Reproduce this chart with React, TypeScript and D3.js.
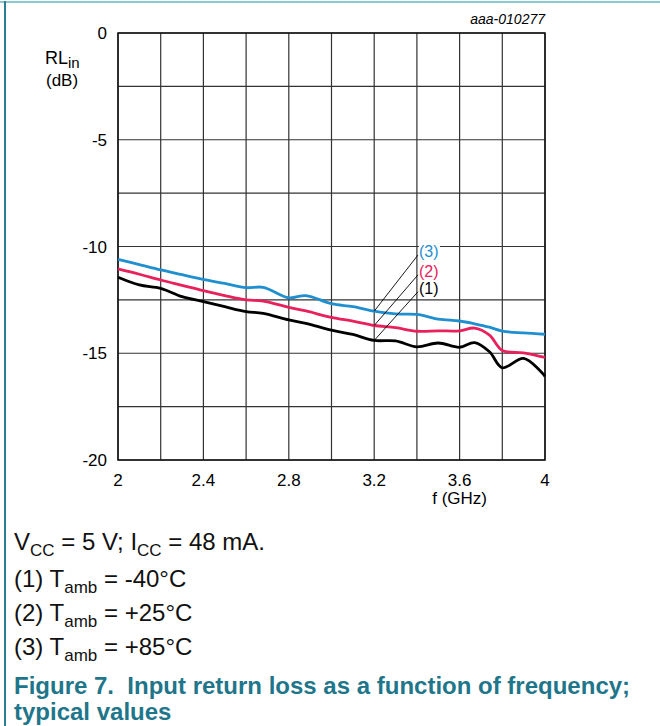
import React, { useRef, useEffect } from "react";
import * as d3 from "d3";

const FREQ = [2.0, 2.1, 2.2, 2.3, 2.4, 2.5, 2.6, 2.68, 2.8, 2.88, 3.0, 3.1, 3.2, 3.3, 3.4, 3.5, 3.6, 3.67, 3.74, 3.8, 3.9, 4.0];

// (1) Tamb = -40°C
const RL_M40 = [-11.44, -11.8, -11.96, -12.35, -12.58, -12.82, -13.05, -13.13, -13.44, -13.6, -13.92, -14.12, -14.4, -14.42, -14.7, -14.52, -14.72, -14.5, -14.93, -15.68, -15.24, -16.08];
// (2) Tamb = +25°C
const RL_P25 = [-11.05, -11.3, -11.57, -11.82, -12.07, -12.3, -12.5, -12.56, -12.85, -13.02, -13.32, -13.5, -13.7, -13.8, -13.97, -13.95, -13.95, -13.82, -14.15, -14.87, -14.98, -15.2];
// (3) Tamb = +85°C
const RL_P85 = [-10.6, -10.85, -11.1, -11.32, -11.54, -11.73, -11.93, -11.91, -12.4, -12.3, -12.68, -12.82, -13.03, -13.16, -13.18, -13.4, -13.49, -13.62, -13.78, -13.96, -14.05, -14.11];

const SERIES = [
  { id: "(1)", values: RL_M40, color: "#000000", labelY: -12.12 },
  { id: "(2)", values: RL_P25, color: "#e8215c", labelY: -11.33 },
  { id: "(3)", values: RL_P85, color: "#1f8fcf", labelY: -10.4 },
];

const X_TICKS = [2, 2.4, 2.8, 3.2, 3.6, 4];
const Y_TICKS = [0, -5, -10, -15, -20];
const LEADER_F = 3.2;
const LABEL_F = 3.405;

const W = 660;
const H = 726;
const PLOT = { left: 118, right: 545, top: 33, bottom: 460 };
const FONT = "Arial, 'Liberation Sans', Helvetica, sans-serif";
const TEAL = "#1f768a";

export default function App() {
  const svgRef = useRef<SVGSVGElement | null>(null);

  useEffect(() => {
    if (!svgRef.current) return;
    const svg = d3.select(svgRef.current);
    svg.selectAll("*").remove();

    const x = d3.scaleLinear().domain([2, 4]).range([PLOT.left, PLOT.right]);
    const y = d3.scaleLinear().domain([-20, 0]).range([PLOT.bottom, PLOT.top]);

    // frame lines of the figure
    svg.append("line").attr("x1", 0).attr("x2", W).attr("y1", 2).attr("y2", 2)
      .attr("stroke", "#8ccad0").attr("stroke-width", 2);
    svg.append("line").attr("x1", 5).attr("x2", 5).attr("y1", 1).attr("y2", H)
      .attr("stroke", "#2b7d90").attr("stroke-width", 2);

    // grid
    const grid = svg.append("g");
    grid.selectAll("line.v")
      .data(d3.range(0, 11).map((i) => 2 + i * 0.2))
      .join("line")
      .attr("x1", (d) => x(d)).attr("x2", (d) => x(d))
      .attr("y1", PLOT.top).attr("y2", PLOT.bottom)
      .attr("stroke", "#333").attr("stroke-width", 1.2);
    grid.selectAll("line.h")
      .data(d3.range(0, 9).map((i) => -i * 2.5))
      .join("line")
      .attr("x1", PLOT.left).attr("x2", PLOT.right)
      .attr("y1", (d) => y(d)).attr("y2", (d) => y(d))
      .attr("stroke", "#333").attr("stroke-width", 1.2);

    svg.append("rect")
      .attr("x", PLOT.left).attr("y", PLOT.top)
      .attr("width", PLOT.right - PLOT.left).attr("height", PLOT.bottom - PLOT.top)
      .attr("fill", "none").attr("stroke", "#111").attr("stroke-width", 1.5);

    // tick labels
    svg.append("g").selectAll("text")
      .data(Y_TICKS).join("text")
      .attr("x", PLOT.left - 11).attr("y", (d) => y(d) + 6)
      .attr("text-anchor", "end").attr("font-family", FONT).attr("font-size", 17)
      .text((d) => String(d));
    svg.append("g").selectAll("text")
      .data(X_TICKS).join("text")
      .attr("x", (d) => x(d)).attr("y", PLOT.bottom + 26)
      .attr("text-anchor", "middle").attr("font-family", FONT).attr("font-size", 17)
      .text((d) => String(d));

    // axis titles
    const yt = svg.append("text").attr("x", 45).attr("y", 64)
      .attr("font-family", FONT).attr("font-size", 18);
    yt.append("tspan").text("RL");
    yt.append("tspan").attr("dy", 4).attr("font-size", 15).text("in");
    svg.append("text").attr("x", 46).attr("y", 86)
      .attr("font-family", FONT).attr("font-size", 17).text("(dB)");
    svg.append("text").attr("x", x(3.6)).attr("y", PLOT.bottom + 44)
      .attr("text-anchor", "middle").attr("font-family", FONT).attr("font-size", 17)
      .text("f (GHz)");

    svg.append("text").attr("x", PLOT.right).attr("y", 24)
      .attr("text-anchor", "end").attr("font-family", FONT).attr("font-size", 14)
      .attr("font-style", "italic").text("aaa-010277");

    // curves
    const line = d3.line<number>()
      .x((_, i) => x(FREQ[i]))
      .y((d) => y(d))
      .curve(d3.curveCatmullRom.alpha(0.5));

    SERIES.forEach((s) => {
      svg.append("path")
        .attr("d", line(s.values) ?? "")
        .attr("fill", "none")
        .attr("stroke", s.color)
        .attr("stroke-width", 2.8)
        .attr("stroke-linejoin", "round");
    });

    // leader lines and labels
    SERIES.forEach((s) => {
      const v = s.values[FREQ.indexOf(LEADER_F)];
      svg.append("line")
        .attr("x1", x(LEADER_F)).attr("y1", y(v))
        .attr("x2", x(LABEL_F)).attr("y2", y(s.labelY))
        .attr("stroke", "#000").attr("stroke-width", 0.9);
      svg.append("rect")
        .attr("x", x(LABEL_F) + 1).attr("y", y(s.labelY) - 14)
        .attr("width", 21).attr("height", 17).attr("fill", "#fff");
      svg.append("text")
        .attr("x", x(LABEL_F) + 1).attr("y", y(s.labelY) + 2)
        .attr("font-family", FONT).attr("font-size", 16)
        .attr("fill", s.color)
        .text(s.id);
    });

    // notes under the chart
    const notes = svg.append("g").attr("font-family", FONT).attr("font-size", 24).attr("fill", "#111");
    const n1 = notes.append("text").attr("x", 14).attr("y", 550);
    n1.append("tspan").text("V");
    n1.append("tspan").attr("dy", 6).attr("font-size", 17).text("CC");
    n1.append("tspan").attr("dy", -6).text(" = 5 V; I");
    n1.append("tspan").attr("dy", 6).attr("font-size", 17).text("CC");
    n1.append("tspan").attr("dy", -6).text(" = 48 mA.");

    const temps = ["(1) T|-40°C", "(2) T|+25°C", "(3) T|+85°C"];
    temps.forEach((t, i) => {
      const [pre, val] = t.split("|");
      const tx = notes.append("text").attr("x", 14).attr("y", 587 + i * 34);
      tx.append("tspan").text(pre);
      tx.append("tspan").attr("dy", 6).attr("font-size", 17).text("amb");
      tx.append("tspan").attr("dy", -6).text(" = " + val);
    });

    const title = svg.append("g").attr("font-family", FONT).attr("font-size", 24)
      .attr("font-weight", "bold").attr("fill", TEAL);
    title.append("text").attr("x", 14).attr("y", 694).attr("xml:space", "preserve")
      .text("Figure 7.  Input return loss as a function of frequency;");
    title.append("text").attr("x", 14).attr("y", 720).text("typical values");
  }, []);

  return (
    <svg
      ref={svgRef}
      width={W}
      height={H}
      style={{ position: "absolute", left: 0, top: 0, background: "#fff" }}
    />
  );
}
